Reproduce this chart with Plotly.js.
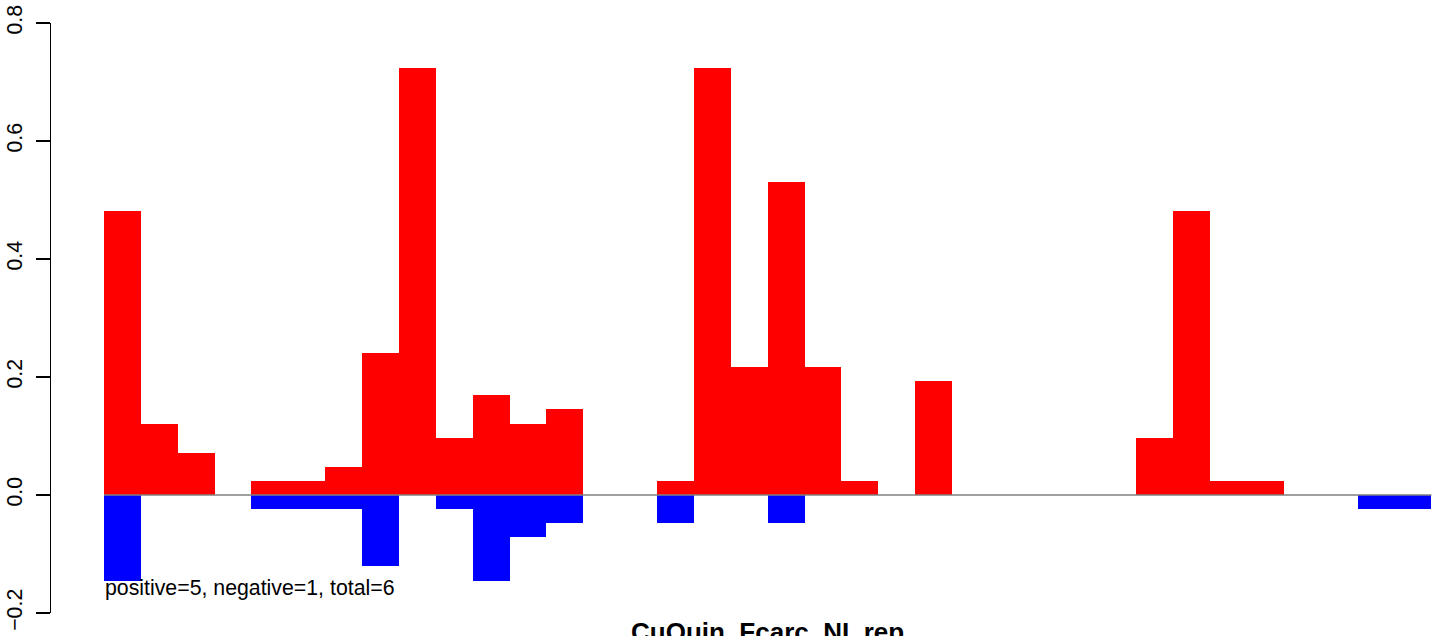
<!DOCTYPE html>
<html>
<head>
<meta charset="utf-8">
<script src="https://cdn.plot.ly/plotly-3.0.1.min.js"></script>
<style>html,body{margin:0;padding:0;background:#fff;}#chart{width:1449px;height:636px;}</style>
</head>
<body>
<div id="chart"></div>
<script>
// bin index for each bar
var bins = [];
for (var i = 0; i < 36; i++) bins.push(i);

// positive (red) values per bin
var positiveValues = [0.482,0.120,0.072,0,0.024,0.024,0.048,0.241,0.723,0.096,0.169,0.120,0.145,0,0,0.024,0.723,0.217,0.530,0.217,0.024,0,0.193,0,0,0,0,0,0.096,0.482,0.024,0.024,0,0,0,0];

// negative (blue) values per bin
var negativeValues = [-0.145,0,0,0,-0.024,-0.024,-0.024,-0.120,0,-0.024,-0.145,-0.072,-0.048,0,0,-0.048,0,0,-0.048,0,0,0,0,0,0,0,0,0,0,0,0,0,0,0,-0.024,-0.024];

var yTickVals = [-0.2,0.0,0.2,0.4,0.6,0.8];
var yTickText = ['\u22120.2','0.0','0.2','0.4','0.6','0.8'];

var xLabel = 'CuQuin_Fcarc_NI_rep';
var noteText = 'positive=5, negative=1, total=6';

var FONT = 'Liberation Sans, Arial, Helvetica, sans-serif';
var lo = -0.5, hi = bins.length - 0.5;

var traces = [
  {type:'bar', x:bins, y:positiveValues, width:1, marker:{color:'#FF0000', line:{width:0}}, hoverinfo:'skip'},
  {type:'bar', x:bins, y:negativeValues, width:1, marker:{color:'#0000FF', line:{width:0}}, hoverinfo:'skip'},
  {type:'scatter', mode:'lines', x:[lo,hi], y:[0,0], line:{color:'#808080', width:1.3}, hoverinfo:'skip'}
];

var layout = {
  width:1449, height:636,
  margin:{l:51, r:0, t:23, b:23, pad:0},
  paper_bgcolor:'#fff', plot_bgcolor:'#fff',
  showlegend:false,
  barmode:'overlay', bargap:0,
  font:{family:FONT, color:'#000'},
  xaxis:{range:[-1.937, 35.975], visible:false, showgrid:false, zeroline:false, fixedrange:true},
  yaxis:{range:[-0.2,0.8], tickvals:yTickVals, ticktext:yTickText, tickangle:-90,
         ticks:'outside', ticklen:14, tickwidth:1.3, tickcolor:'#000', ticklabelstandoff:5,
         showline:true, linecolor:'#000', linewidth:1.3, showgrid:false, zeroline:false,
         tickfont:{family:FONT, size:21.3, color:'#000'}, fixedrange:true},
  annotations:[
    {text:noteText, x:lo, xref:'x', xanchor:'left', y:-0.158, yref:'y', yanchor:'middle',
     showarrow:false, font:{family:FONT, size:21.3, color:'#000'}, borderpad:0},
    {text:'<b>'+xLabel+'</b>', x:(lo+hi)/2, xref:'x', xanchor:'center', y:0, yref:'paper', yanchor:'top',
     yshift:-3, showarrow:false, font:{family:FONT, size:26, color:'#000'}, borderpad:0}
  ]
};

Plotly.newPlot('chart', traces, layout, {displayModeBar:false, staticPlot:true});
</script>
</body>
</html>
